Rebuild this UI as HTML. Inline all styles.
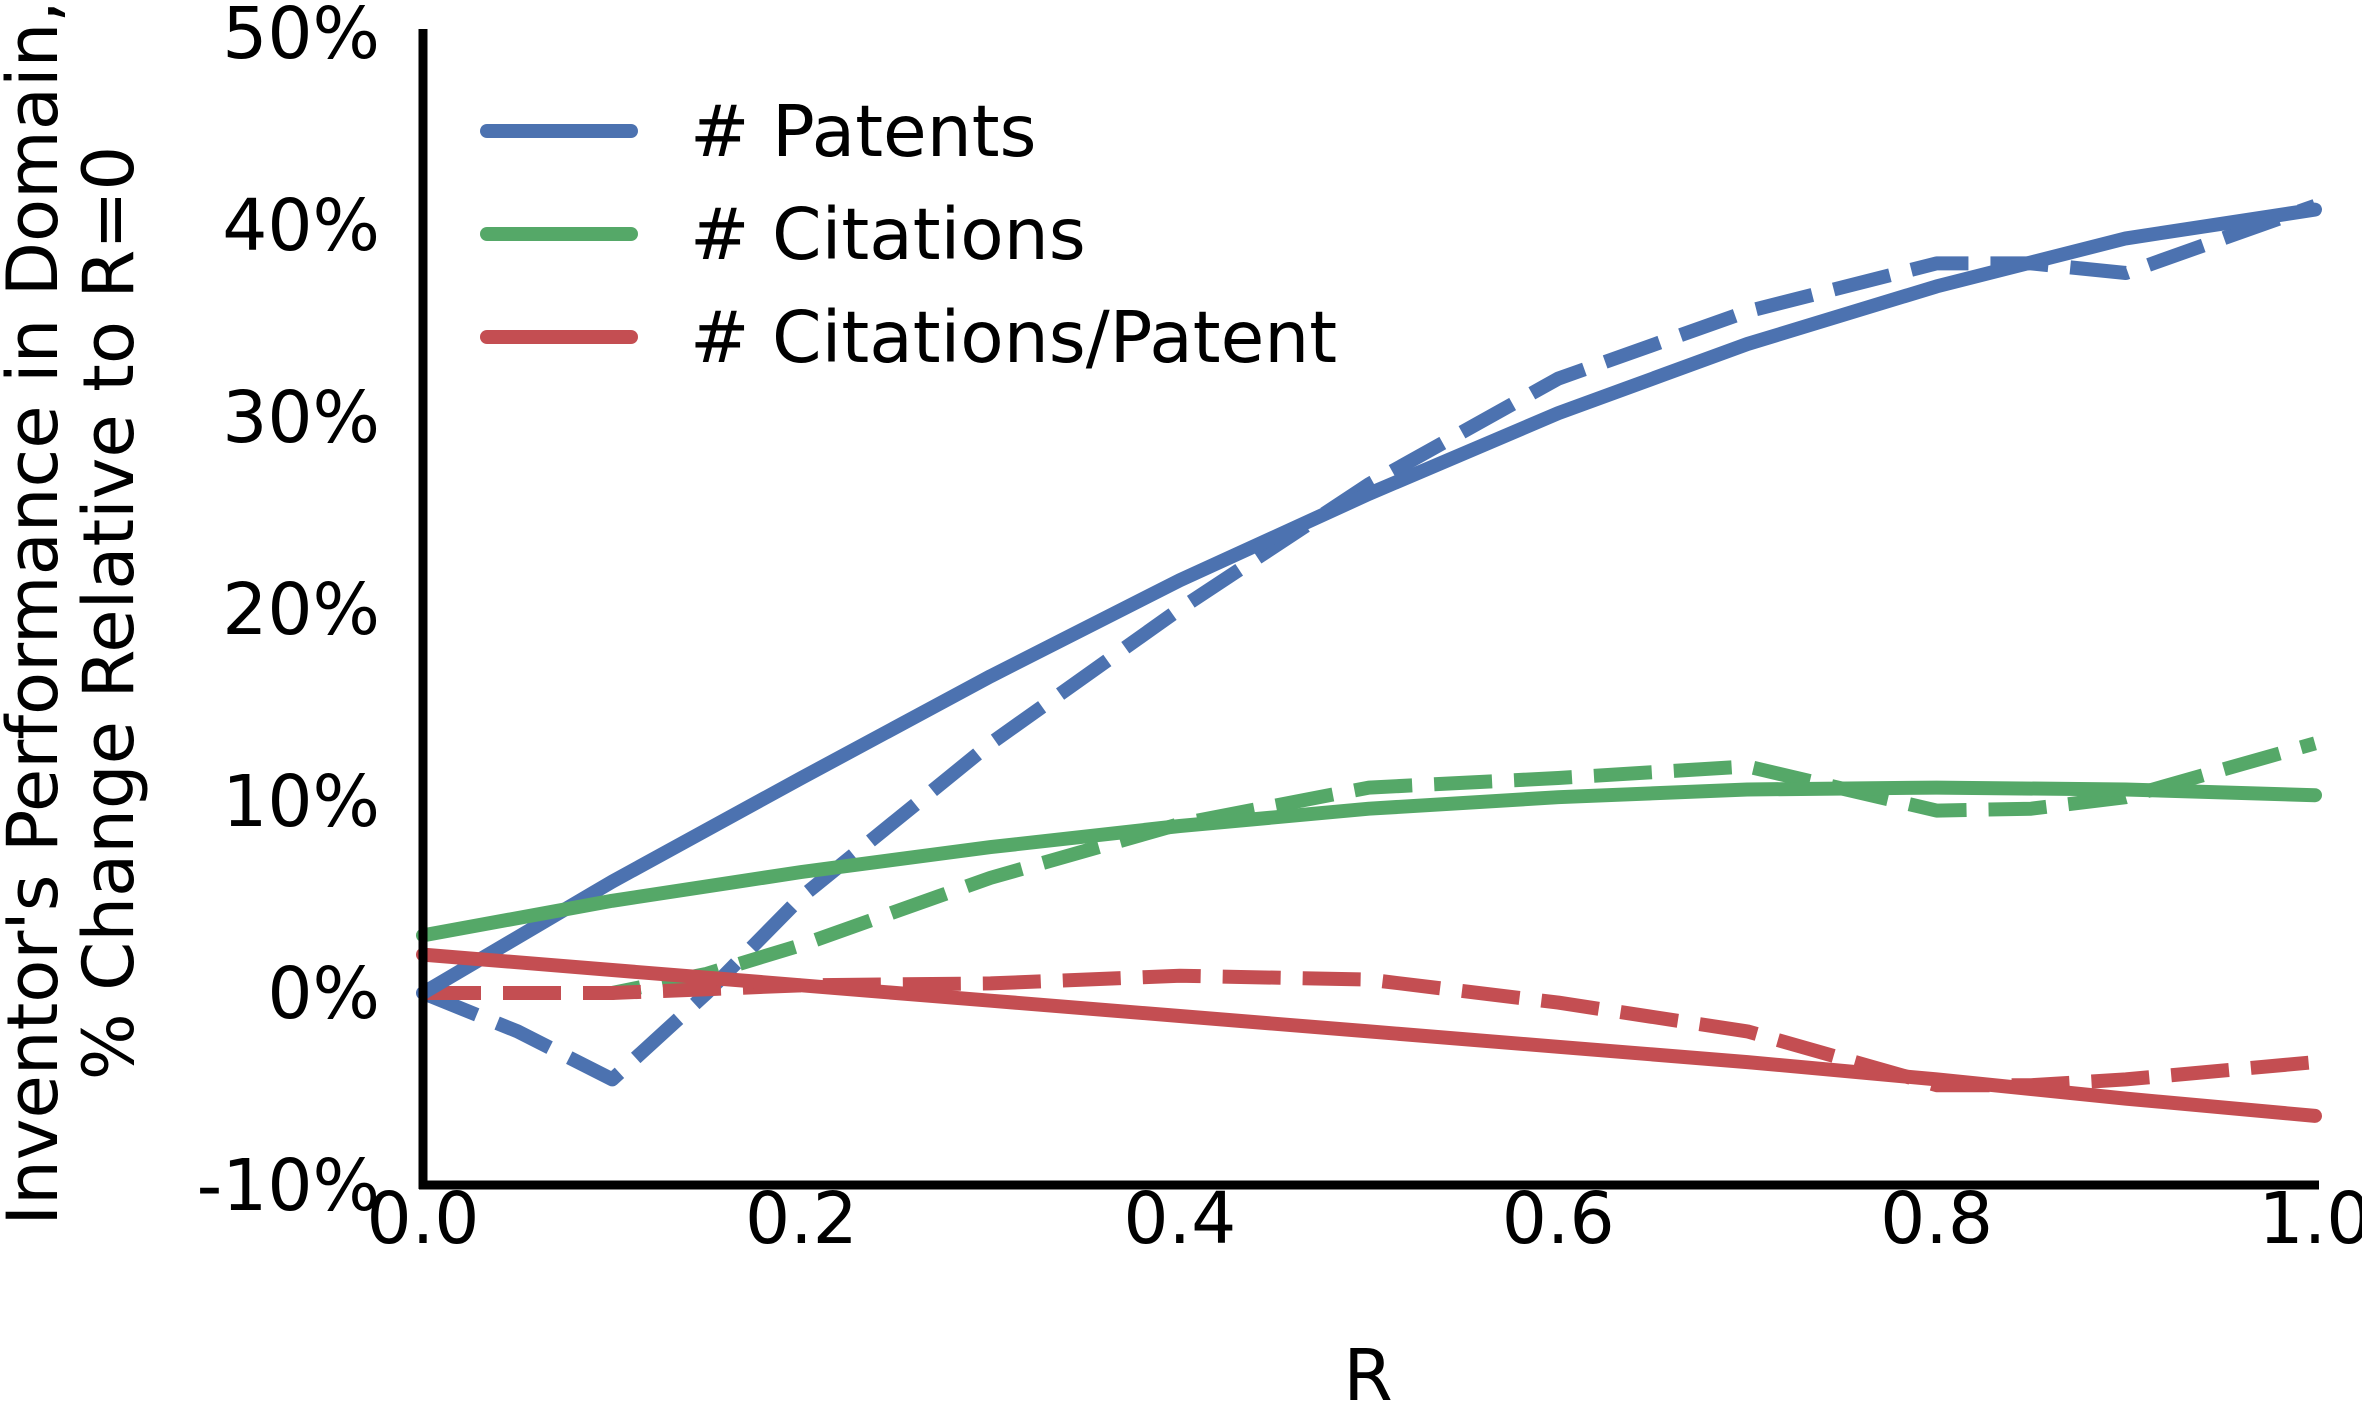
<!DOCTYPE html>
<html><head><meta charset="utf-8"><style>
html,body{margin:0;padding:0;background:#fff;}
svg text{font-family:"DejaVu Sans","Liberation Sans",sans-serif;fill:#000;}
</style></head><body>
<svg id="chart" width="2362" height="1403" viewBox="0 0 2362 1403" xmlns="http://www.w3.org/2000/svg">
<g id="plot"></g>
<g id="axes"></g>
<g id="legend"></g>
</svg>
<script>
const xs = [0,0.1,0.2,0.3,0.4,0.5,0.6,0.7,0.8,0.9,1.0];
const patentsSolid = [0,5.8,11.2,16.5,21.5,26,30.2,33.8,36.8,39.3,40.8];
const citationsSolid = [3,4.8,6.3,7.6,8.7,9.6,10.2,10.6,10.7,10.6,10.3];
const cppSolid = [2,1.2,0.4,-0.4,-1.2,-2.0,-2.8,-3.6,-4.5,-5.5,-6.4];
const xsDash = [0,0.05,0.1,0.15,0.2,0.3,0.4,0.5,0.6,0.7,0.8,0.85,0.9,1.0];
const patentsDash = [0,-2,-4.5,0,5,13,20,26.5,32,35.5,38,38,37.5,41];
const citationsDash = [0,0,0,1,2.5,6,8.8,10.7,11.2,11.8,9.5,9.6,10.2,13];
const cppDash = [0,0,0,0.2,0.4,0.5,0.9,0.7,-0.5,-2,-4.8,-4.8,-4.5,-3.6];
const xTicks = [0,0.2,0.4,0.6,0.8,1.0];
const xTickLabels = ["0.0","0.2","0.4","0.6","0.8","1.0"];
const yTicks = [-10,0,10,20,30,40,50];
const yTickLabels = ["-10%","0%","10%","20%","30%","40%","50%"];
const legendLabels = ["# Patents","# Citations","# Citations/Patent"];

const NS="http://www.w3.org/2000/svg";
const X0=423,X1=2315,Y50=33,Ym10=1185;
const sx=v=>X0+(X1-X0)*v;
const sy=v=>Ym10-(Ym10-Y50)*(v+10)/60;
const colors=["#4c72b0","#55a868","#c44e52"];
function mk(tag,attrs,parent){const e=document.createElementNS(NS,tag);for(const k in attrs)e.setAttribute(k,attrs[k]);parent.appendChild(e);return e;}
const plot=document.getElementById('plot');
function line(xv,yv,color,dash,name){
  const d=xv.map((x,i)=>(i?'L':'M')+sx(x).toFixed(1)+','+sy(yv[i]).toFixed(1)).join(' ');
  const p=mk('path',{d:d,fill:'none',stroke:color,'stroke-width':14,'stroke-linecap':dash?'butt':'round','stroke-linejoin':'round'},plot);
  if(dash)p.setAttribute('stroke-dasharray','58 22');
  
  
}
line(xsDash,patentsDash,colors[0],true,'patents-dashed-line');
line(xsDash,citationsDash,colors[1],true,'citations-dashed-line');
line(xsDash,cppDash,colors[2],true,'citations-per-patent-dashed-line');
line(xs,patentsSolid,colors[0],false,'patents-line');
line(xs,citationsSolid,colors[1],false,'citations-line');
line(xs,cppSolid,colors[2],false,'citations-per-patent-line');

const axes=document.getElementById('axes');
const ya=mk('line',{x1:X0,y1:Y50-4,x2:X0,y2:Ym10+4,stroke:'#000','stroke-width':9},axes);


const xa=mk('line',{x1:X0-4,y1:Ym10,x2:X1+4,y2:Ym10,stroke:'#000','stroke-width':9},axes);


xTicks.forEach((v,i)=>{const t=mk('text',{x:sx(v),y:1243,'font-size':71,'text-anchor':'middle'},axes);t.textContent=xTickLabels[i];

});
yTicks.forEach((v,i)=>{const t=mk('text',{x:380,y:sy(v)+25,'font-size':71,'text-anchor':'end'},axes);t.textContent=yTickLabels[i];

});
const xt=mk('text',{x:1368,y:1400,'font-size':71,'text-anchor':'middle'},axes);xt.textContent='R';


const yt=mk('text',{transform:'translate(0,613) rotate(-90)','font-size':70.5,'text-anchor':'middle'},axes);


const t1=mk('tspan',{x:0,y:57},yt);t1.textContent="Inventor's Performance in Domain,";
const t2=mk('tspan',{x:0,y:133},yt);t2.textContent="% Change Relative to R=0";

const lg=document.getElementById('legend');
legendLabels.forEach((lab,i)=>{
  const y=131+i*103;
  const l=mk('line',{x1:487,y1:y,x2:631,y2:y,stroke:colors[i],'stroke-width':14,'stroke-linecap':'round'},lg);
  
  
  const t=mk('text',{x:690,y:y+25,'font-size':71},lg);t.textContent=lab;
  
  
});
</script>
</body></html>
